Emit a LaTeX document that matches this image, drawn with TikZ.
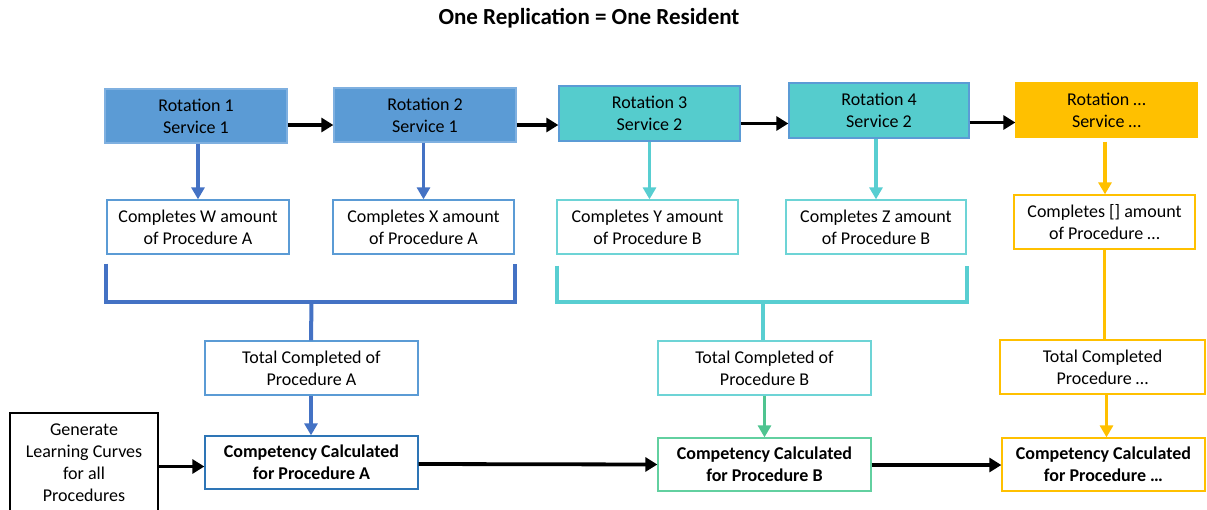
\documentclass[tikz,border=0pt]{standalone}
\usepackage{fontspec}
\setmainfont{Carlito}
\usetikzlibrary{arrows.meta}
\definecolor{rotblue}{HTML}{5B9BD5}
\definecolor{rotblueb}{HTML}{7FB0E0}
\definecolor{teal2}{HTML}{55CCCD}
\definecolor{tealb}{HTML}{6DD4D6}
\definecolor{teald}{HTML}{58CED1}
\definecolor{yel}{HTML}{FFC000}
\definecolor{arrblue}{HTML}{4472C4}
\definecolor{kblue}{HTML}{2E75B6}
\definecolor{grn}{HTML}{4FC490}
\definecolor{grnb}{HTML}{62D0A0}
\begin{document}
\begin{tikzpicture}[x=1pt,y=-1pt,
  box/.style={rectangle,inner sep=0pt,align=center,line width=1.3pt,
    font=\fontsize{18}{22}\selectfont,text=black},
  bold/.style={box,font=\fontsize{18}{22}\selectfont\bfseries},
  blk/.style={line width=3.8pt,-{Triangle[width=14pt,length=12pt]}},
  dn/.style={line width=3.5pt,-{Triangle[width=13pt,length=12pt]}},
  brk/.style={line width=4pt}]
\useasboundingbox (0,0) rectangle (1207,509);
\node[font=\fontsize{23}{27}\selectfont\bfseries] (title) at (589,18) {One Replication = One Resident};
% top row
\node[box,fill=rotblue,draw=rotblueb,minimum width=182pt,minimum height=54pt] (r1) at (196,116) {Rotation 1\\Service 1};
\node[box,fill=rotblue,draw=rotblueb,minimum width=182pt,minimum height=54pt] (r2) at (425,115) {Rotation 2\\Service 1};
\node[box,fill=teal2,draw=rotblue,minimum width=181pt,minimum height=55pt] (r3) at (649.5,113.5) {Rotation 3\\Service 2};
\node[box,fill=teal2,draw=rotblue,minimum width=180pt,minimum height=55pt] (r4) at (879,110.5) {Rotation 4\\Service 2};
\node[box,fill=yel,draw=yel,minimum width=181pt,minimum height=54pt] (r5) at (1106.5,110) {Rotation \dots\\Service \dots};
% second row
\node[box,draw=rotblue,minimum width=182pt,minimum height=54pt] (c1) at (198,227) {Completes W amount\\of Procedure A};
\node[box,draw=rotblue,minimum width=181pt,minimum height=54pt] (c2) at (423.5,227) {Completes X amount\\of Procedure A};
\node[box,draw=tealb,minimum width=181pt,minimum height=54pt] (c3) at (647.5,227) {Completes Y amount\\of Procedure B};
\node[box,draw=tealb,minimum width=180pt,minimum height=54pt] (c4) at (876,227) {Completes Z amount\\of Procedure B};
\node[box,draw=yel,minimum width=181pt,minimum height=54pt] (c5) at (1104.5,222) {Completes [] amount\\of Procedure \dots};
% third row
\node[box,draw=rotblue,minimum width=213pt,minimum height=54pt] (t1) at (311.5,368) {Total Completed of\\Procedure A};
\node[box,draw=tealb,minimum width=213pt,minimum height=54pt] (t2) at (764.5,368) {Total Completed of\\Procedure B};
\node[box,draw=yel,minimum width=205pt,minimum height=54pt] (t3) at (1102.5,367) {Total Completed\\Procedure \dots};
% bottom row
\node[bold,draw=kblue,minimum width=213pt,minimum height=53pt] (k1) at (311.5,462.5) {Competency Calculated\\for Procedure A};
\node[bold,draw=grnb,minimum width=213pt,minimum height=53pt] (k2) at (764.5,464.5) {Competency Calculated\\for Procedure B};
\node[bold,draw=yel,minimum width=203pt,minimum height=53pt] (k3) at (1103.5,464.5) {Competency Calculated\\for Procedure \dots};
\node[box,draw=black,minimum width=148pt,minimum height=100pt] (g) at (84,463) {Generate\\Learning Curves\\for all\\Procedures};
% top arrows
\draw[blk] ([yshift=-9pt]r1.east) -- ([yshift=-9pt]r1.east -| r2.west);
\draw[blk] ([yshift=-10pt]r2.east) -- ([yshift=-10pt]r2.east -| r3.west);
\draw[blk] ([yshift=-10pt]r3.east) -- ([yshift=-10pt]r3.east -| r4.west);
\draw[blk] ([yshift=-12pt]r4.east) -- ([yshift=-12pt]r4.east -| r5.west);
% down arrows
\draw[dn,arrblue] (r1.south -| c1.north) -- (c1.north);
\draw[dn,arrblue] ([xshift=-1.5pt]r2.south) -- ([xshift=-1.5pt]r2.south |- c2.north);
\draw[dn,teald] (r3.south) -- (r3.south |- c3.north);
\draw[dn,teald] ([xshift=-3pt]r4.south) -- ([xshift=-3pt]r4.south |- c4.north);
\draw[dn,yel] ([yshift=-4pt,xshift=-1.5pt]r5.south) -- ([xshift=-1.5pt]r5.south |- c5.north);
% brackets
\coordinate (ba) at (t1.north |- 0,301.5);
\coordinate (bb) at ([xshift=-2pt]t2.north |- 0,301.5);
\draw[brk,arrblue] ([yshift=-9pt]c1.south west) |- (ba) -| ([yshift=-9pt]c2.south east);
\draw[brk,arrblue] (ba) -- ([xshift=-0.5pt]t1.north);
\draw[brk,teald] ([yshift=-11pt,xshift=1pt]c3.south west) |- (bb) -| ([yshift=-11pt]c4.south east);
\draw[brk,teald] (bb) -- (bb |- t2.north);
\draw[line width=3.5pt,yel] (c5.south) -- (c5.south |- t3.north);
% to competency
\draw[dn,arrblue] ([xshift=-0.5pt]t1.south) -- ([xshift=-0.5pt]k1.north);
\draw[dn,grn] (t2.south) -- (k2.north);
\draw[dn,yel] ([xshift=4pt]t3.south) -- ([xshift=4pt]t3.south |- k3.north);
% bottom arrows
\draw[blk] ([yshift=-3.5pt]g.east) -- ([yshift=-3.5pt]g.east -| k1.west);
\draw[blk] ([yshift=-1.5pt]k1.east) -- (k2.west);
\draw[blk] ([yshift=-0.5pt]k2.east) -- ([yshift=-0.5pt]k2.east -| k3.west);
\end{tikzpicture}
\end{document}
